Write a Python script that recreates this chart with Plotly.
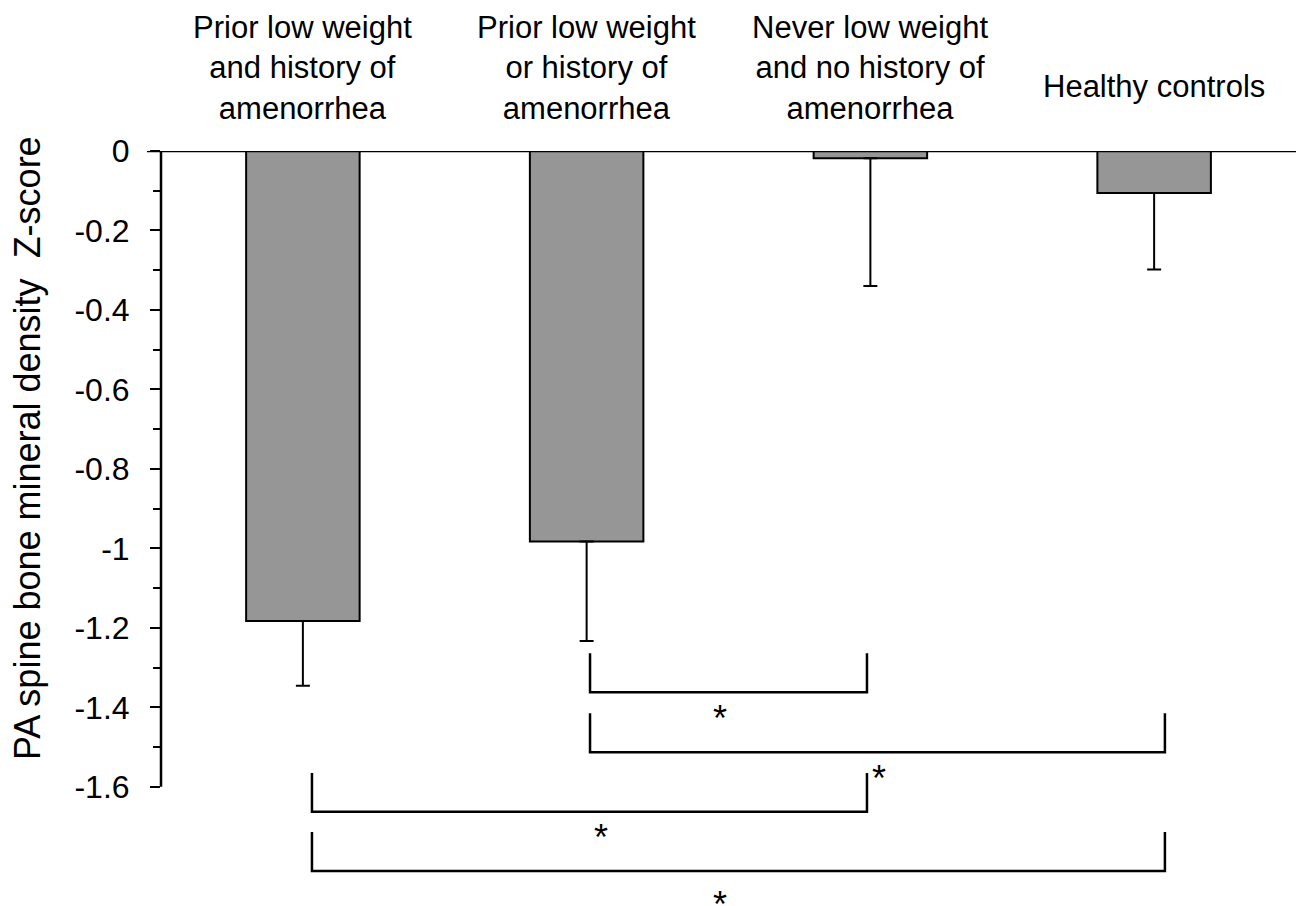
import plotly.graph_objects as go

# ---- data ----
categories = [
    "Prior low weight<br>and history of<br>amenorrhea",
    "Prior low weight<br>or history of<br>amenorrhea",
    "Never low weight<br>and no history of<br>amenorrhea",
    "Healthy controls",
]
means = [-1.183, -0.983, -0.018, -0.106]
err_minus = [0.163, 0.250, 0.322, 0.192]

tick_vals = [0, -0.2, -0.4, -0.6, -0.8, -1.0, -1.2, -1.4, -1.6]
tick_text = ["0", "-0.2", "-0.4", "-0.6", "-0.8", "-1", "-1.2", "-1.4", "-1.6"]
minor_vals = [-0.1, -0.3, -0.5, -0.7, -0.9, -1.1, -1.3, -1.5]

# significance brackets (x in category units, y in Z-score units)
bracket_left = [1.012, 1.012, 0.032, 0.032]
bracket_right = [1.988, 3.038, 1.988, 3.038]
bracket_top = [-1.264, -1.415, -1.565, -1.714]
bracket_bottom = [-1.362, -1.513, -1.663, -1.812]
star_x = [1.47, 2.03, 1.05, 1.47]
star_y = [-1.407, -1.558, -1.707, -1.877]
star_text = ["*", "*", "*", "*"]

y_title = "PA spine bone mineral density&nbsp; Z-score"

FONT = "Arial, 'Liberation Sans', sans-serif"
W, H = 1301, 906
ML, MR, MT, MB = 161, 5, 151, 0
PH = H - MT - MB
PW = W - ML - MR

xs = list(range(len(categories)))

fig = go.Figure()
fig.add_trace(go.Bar(
    x=xs, y=means, width=0.4,
    marker=dict(color="#969696", line=dict(color="black", width=2)),
    error_y=dict(type="data", symmetric=False,
                 array=[0] * len(means), arrayminus=err_minus,
                 color="black", thickness=2, width=7),
    showlegend=False,
))

shapes = []
# zero line (top axis)
shapes.append(dict(type="line", xref="paper", yref="y",
                   x0=-14 / PW, x1=1, y0=0, y1=0,
                   line=dict(color="black", width=2.5)))
# y axis line from 0 to -1.6
shapes.append(dict(type="line", xref="paper", yref="y",
                   x0=0, x1=0, y0=tick_vals[0], y1=tick_vals[-1],
                   line=dict(color="black", width=2.5)))
for l, r, t, b in zip(bracket_left, bracket_right, bracket_top, bracket_bottom):
    shapes.append(dict(type="path", xref="x", yref="y",
                       path=f"M {l},{t} L {l},{b} L {r},{b} L {r},{t}",
                       line=dict(color="black", width=2.5)))

annotations = []
label_bottom_px = [128, 128, 128, 106]
for i, c in enumerate(categories):
    annotations.append(dict(
        x=xs[i], xref="x", y=(H - MB - label_bottom_px[i]) / PH, yref="paper",
        text=c, showarrow=False, xanchor="center", yanchor="bottom",
        font=dict(family=FONT, size=31, color="black"), align="center"))
for sx, sy, st in zip(star_x, star_y, star_text):
    annotations.append(dict(
        x=sx, xref="x", y=sy, yref="y", text=st, showarrow=False,
        xanchor="center", yanchor="middle", yshift=-8,
        font=dict(family=FONT, size=36, color="black")))
annotations.append(dict(
    x=(27 - ML) / PW, xref="paper", y=(H - MB - 448) / PH, yref="paper",
    text=y_title, textangle=-90, showarrow=False,
    xanchor="center", yanchor="middle",
    font=dict(family=FONT, size=36, color="black")))

fig.update_layout(
    width=W, height=H,
    margin=dict(l=ML, r=MR, t=MT, b=MB, pad=0),
    paper_bgcolor="white", plot_bgcolor="white",
    font=dict(family=FONT, color="black"),
    xaxis=dict(range=[-0.5, 3.5], showticklabels=False, ticks="",
               showgrid=False, zeroline=False, showline=False),
    yaxis=dict(range=[-1.9, 0], tickvals=tick_vals, ticktext=tick_text,
               ticks="outside", ticklen=10, tickwidth=2, tickcolor="black",
               ticklabelstandoff=14,
               tickfont=dict(family=FONT, size=32, color="black"),
               minor=dict(tickvals=minor_vals, ticks="outside", ticklen=7,
                          tickwidth=2, tickcolor="black", showgrid=False),
               showgrid=False, zeroline=False, showline=False),
    shapes=shapes, annotations=annotations,
)

fig.write_html("out.html")
